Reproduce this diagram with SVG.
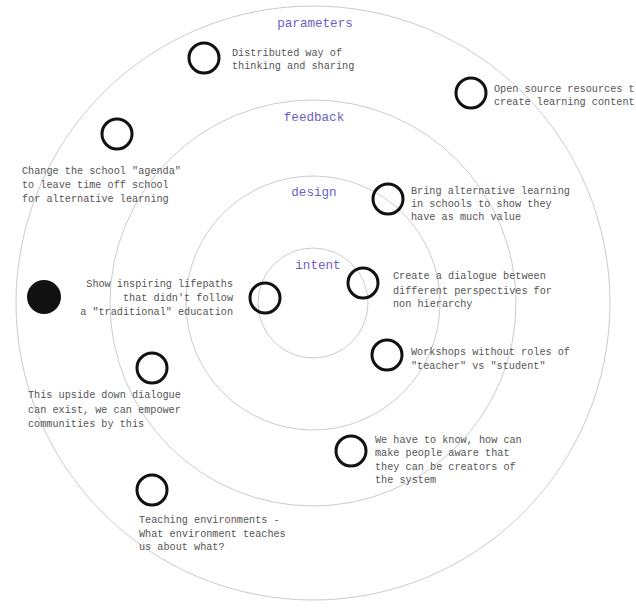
<svg xmlns="http://www.w3.org/2000/svg" width="636" height="608" viewBox="0 0 636 608">
<style>
.ring{fill:none;stroke:#c4c4cc;stroke-width:0.9}
.lbl{font-family:"Liberation Mono","DejaVu Sans Mono",monospace;font-size:12.6px;fill:#6a5fc4;text-anchor:middle}
.txt{font-family:"Liberation Mono","DejaVu Sans Mono",monospace;font-size:10.2px;fill:#555}
.dot{fill:none;stroke:#111;stroke-width:3}
</style>
<rect width="636" height="608" fill="#fff"/>
<g id="rings">
<circle class="ring" cx="313" cy="303" r="297"/>
<circle class="ring" cx="313" cy="303" r="203"/>
<circle class="ring" cx="313" cy="303" r="127"/>
<circle class="ring" cx="313" cy="303" r="55"/>
<text class="lbl" x="315" y="27">parameters</text>
<text class="lbl" x="314" y="121">feedback</text>
<text class="lbl" x="314" y="196">design</text>
<text class="lbl" x="318" y="269">intent</text>
</g>
<g id="connectors"></g>
<g id="n1"><circle class="dot" cx="204" cy="58" r="15"/>
<text class="txt" x="232" y="56">Distributed way of</text>
<text class="txt" x="232" y="69">thinking and sharing</text></g>
<g id="n2"><circle class="dot" cx="117" cy="134" r="15"/>
<text class="txt" x="22" y="174">Change the school "agenda"</text>
<text class="txt" x="22" y="188">to leave time off school</text>
<text class="txt" x="22" y="202">for alternative learning</text></g>
<g id="n3"><circle class="dot" cx="471" cy="93" r="15"/>
<text class="txt" x="494" y="92">Open source resources t</text>
<text class="txt" x="494" y="105">create learning content</text></g>
<g id="n4"><circle class="dot" cx="388" cy="199" r="15"/>
<text class="txt" x="411" y="194">Bring alternative learning</text>
<text class="txt" x="411" y="207">in schools to show they</text>
<text class="txt" x="411" y="220">have as much value</text></g>
<g id="n5"><circle cx="44" cy="297" r="17" fill="#111"/></g>
<g id="n6"><circle class="dot" cx="265" cy="298" r="15"/>
<text class="txt" x="233" y="287" text-anchor="end">Show inspiring lifepaths</text>
<text class="txt" x="233" y="301" text-anchor="end">that didn't follow</text>
<text class="txt" x="233" y="315" text-anchor="end">a "traditional" education</text></g>
<g id="n7"><circle class="dot" cx="363" cy="283" r="15"/>
<text class="txt" x="393" y="279">Create a dialogue between</text>
<text class="txt" x="393" y="294">different perspectives for</text>
<text class="txt" x="393" y="307">non hierarchy</text></g>
<g id="n8"><circle class="dot" cx="387" cy="355" r="15"/>
<text class="txt" x="411" y="355">Workshops without roles of</text>
<text class="txt" x="411" y="369">"teacher" vs "student"</text></g>
<g id="n9"><circle class="dot" cx="152" cy="368" r="15"/>
<text class="txt" x="28" y="398">This upside down dialogue</text>
<text class="txt" x="28" y="413">can exist, we can empower</text>
<text class="txt" x="28" y="427">communities by this</text></g>
<g id="n10"><circle class="dot" cx="351" cy="451" r="15"/>
<text class="txt" x="375" y="443">We have to know, how can</text>
<text class="txt" x="375" y="456">make people aware that</text>
<text class="txt" x="375" y="470">they can be creators of</text>
<text class="txt" x="375" y="483">the system</text></g>
<g id="n11"><circle class="dot" cx="152" cy="490" r="15"/>
<text class="txt" x="139" y="523">Teaching environments -</text>
<text class="txt" x="139" y="537">What environment teaches</text>
<text class="txt" x="139" y="550">us about what?</text></g>
</svg>
